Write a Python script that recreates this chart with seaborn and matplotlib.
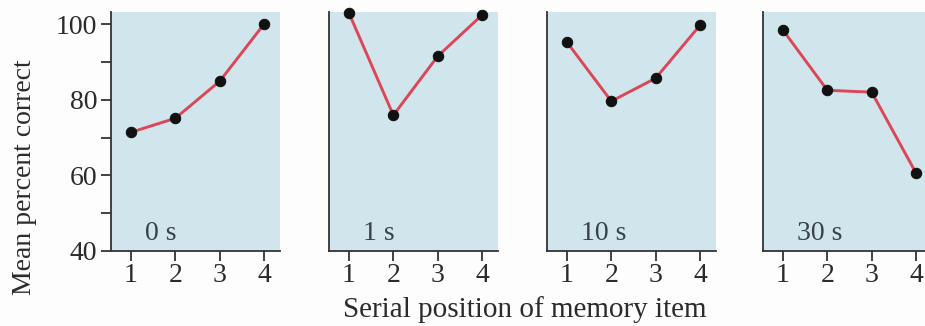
import matplotlib
matplotlib.use("Agg")
import matplotlib.pyplot as plt
import seaborn as sns
import pandas as pd
from matplotlib.ticker import MultipleLocator

# Data
positions = [1, 2, 3, 4]
delays = ["0 s", "1 s", "10 s", "30 s"]
vals_0s = [71.4, 75.1, 84.9, 100.0]
vals_1s = [102.9, 75.9, 91.5, 102.4]
vals_10s = [95.2, 79.6, 85.7, 99.7]
vals_30s = [98.4, 82.5, 82.0, 60.6]
series = [vals_0s, vals_1s, vals_10s, vals_30s]
yticks = [40, 60, 80, 100]

sns.set_style("ticks")
plt.rcParams["font.family"] = ["Liberation Serif", "DejaVu Serif"]

W, H = 925, 326
fig = plt.figure(figsize=(W / 100, H / 100), dpi=100)
fig.patch.set_facecolor("#fdfdfd")

bg = "#d1e5ec"
line_color = "#dc4659"
spine_color = "#333333"
text_color = "#2b2b2b"
label_color = "#36424c"

lefts = [111, 329, 547, 763]
ax_w = 169
top, bottom = 12, 251

for i, (lab, vals) in enumerate(zip(delays, series)):
    ax = fig.add_axes([lefts[i] / W, (H - bottom) / H, ax_w / W, (bottom - top) / H])
    ax.set_facecolor(bg)
    df = pd.DataFrame({"pos": positions, "val": vals})
    sns.lineplot(data=df, x="pos", y="val", ax=ax, color=line_color, linewidth=2.1,
                 marker="o", markersize=7.5, markerfacecolor="#111111",
                 markeredgecolor="#111111", clip_on=False)
    ax.set_xlim(0.549, 4.36)
    ax.set_ylim(40, 103.2)
    ax.set_xticks(positions)
    ax.set_xticklabels([str(p) for p in positions])
    ax.set_xlabel("")
    ax.set_ylabel("")
    for s in ["top", "right"]:
        ax.spines[s].set_visible(False)
    for s in ["left", "bottom"]:
        ax.spines[s].set_color(spine_color)
        ax.spines[s].set_linewidth(1.3)
    ax.tick_params(axis="x", direction="out", length=7, width=1.3, color=spine_color,
                   labelsize=20, labelcolor=text_color, pad=2)
    if i == 0:
        ax.set_yticks(yticks)
        ax.yaxis.set_minor_locator(MultipleLocator(10))
        ax.tick_params(axis="y", which="both", direction="out", length=7, width=1.3,
                       color=spine_color, labelsize=20, labelcolor=text_color, pad=3)
        ax.set_ylabel("Mean percent correct", fontsize=20, color=text_color)
        ax.yaxis.set_label_coords(-0.44, 0.31)
    else:
        ax.set_yticks([])
        ax.tick_params(axis="y", which="both", length=0)
    ax.text(1.32, 42.9, lab, fontsize=20, color=label_color, va="baseline", ha="left")

fig.text(525 / W, 1 - 310 / H, "Serial position of memory item", fontsize=21,
         color=text_color, ha="center", va="center")

fig.savefig("out.png", dpi=100, facecolor=fig.get_facecolor())
